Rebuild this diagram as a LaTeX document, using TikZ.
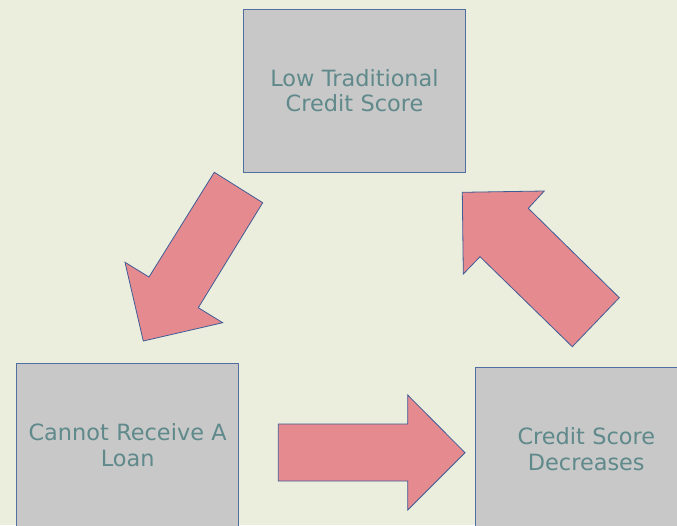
\documentclass[tikz,border=0pt]{standalone}
\usepackage{fontspec}
\setmainfont{DejaVu Sans}
\usepackage{xcolor}
\usepackage{tikz}
\usetikzlibrary{positioning}
\definecolor{slide}{RGB}{236,238,221}
\definecolor{boxgray}{RGB}{200,200,200}
\definecolor{boxline}{RGB}{80,110,160}
\definecolor{arrowpink}{RGB}{229,139,144}
\definecolor{arrowline}{RGB}{62,92,150}
\definecolor{labelteal}{RGB}{95,137,138}

\begin{document}
\begin{tikzpicture}[
    x=1pt, y=-1pt,
    box/.style={rectangle, draw=boxline, line width=0.8pt, fill=boxgray, minimum width=222pt, minimum height=163pt, text width=210pt, align=center, text=labelteal, font=\fontsize{22.4}{25.5}\selectfont},
    blockarrow/.style={draw=arrowline, line width=0.8pt, fill=arrowpink, line join=miter}
]
\useasboundingbox (0,0) rectangle (677,525);
\fill[slide] (0,0) rectangle (677,525);
\clip (0,0) rectangle (677,525);

\node [box] (lowscore) at (354.5,90.5) {Low Traditional\\Credit Score};
\node [box, below left=191pt and 4pt of lowscore] (noloan) {Cannot Receive A\\Loan};
\node [box, below right=195pt and 9pt of lowscore] (decrease) {Credit Score\\Decreases};

% lowscore -> noloan
\draw [blockarrow] (214.3,172.3) -- (262.7,202.7) -- (198.3,307.7) -- (222.7,322.7) -- (143.3,341) -- (125,262.3) -- (149,277) -- cycle;
% noloan -> decrease
\draw [blockarrow] (278.3,424) -- (407.7,424) -- (407.7,395) -- (465,452.7) -- (407.7,510) -- (407.7,481) -- (278.3,481) -- cycle;
% decrease -> lowscore
\draw [blockarrow] (572.3,346.7) -- (619.3,297.7) -- (528.3,208.3) -- (544.3,191) -- (462.3,192.3) -- (463.3,274) -- (480,256.7) -- cycle;

\end{tikzpicture}
\end{document}
